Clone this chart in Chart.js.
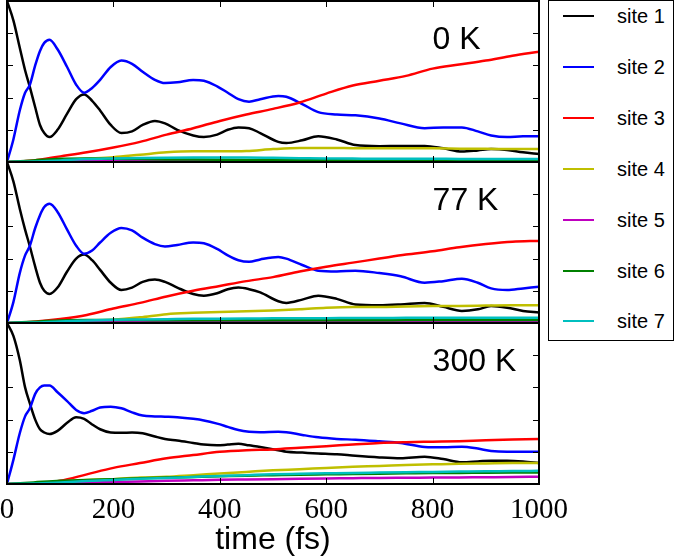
<!DOCTYPE html>
<html>
<head>
<meta charset="utf-8">
<script src="https://cdn.jsdelivr.net/npm/chart.js@4.4.1/dist/chart.umd.min.js"></script>
<style>
  html, body { margin: 0; padding: 0; background: #fff; }
  #wrap { position: relative; width: 675px; height: 560px; }
  #chart { position: absolute; left: 0; top: 0; }
  #legend {
    position: absolute; left: 548px; top: 0; width: 126px; height: 341px;
    box-sizing: border-box; border: 1.5px solid #000; background: #fff;
    font-family: 'Liberation Sans', Arial, sans-serif; font-size: 20px; color: #000;
  }
  #legend .item { position: absolute; left: 0; height: 24px; line-height: 24px; white-space: nowrap; }
  #legend .swatch { position: absolute; left: 14px; top: 11px; width: 31px; height: 2px; }
  #legend .label { position: absolute; left: 68px; top: 0; }
</style>
</head>
<body>
<div id="wrap">
  <canvas id="chart" width="675" height="560"></canvas>
  <div id="legend"></div>
</div>
<script>
'use strict';

// ── Data ─────────────────────────────────────────────────────────
const siteNames  = ['site 1', 'site 2', 'site 3', 'site 4', 'site 5', 'site 6', 'site 7'];
const siteColors = ['#000000', '#0000ff', '#ff0000', '#bfbf00', '#bf00bf', '#008000', '#00bfbf'];
const panelLabels = ['0 K', '77 K', '300 K'];

const xTickLabels = [0, 200, 400, 600, 800, 1000];

// time grid for the oscillating sites (1, 2)
const tFast = [0, 12, 24, 34, 43, 53, 62, 70, 80, 95, 113, 130, 145, 160, 175, 195, 215, 235, 255, 278,
               297, 320, 350, 370, 395, 415, 435, 455, 476, 510, 525, 555, 585, 620, 655, 700, 740, 785, 820, 855,
               885, 910, 940, 970, 1000];
// time grid for the slowly growing sites (3..7)
const tSlow = [0, 50, 100, 150, 200, 250, 300, 350, 400, 450, 500, 550, 600, 650, 700, 750, 800, 850, 900, 950, 1000];

// 0 K
const k0Site1 = [1.0, 0.88, 0.71, 0.57, 0.465, 0.34, 0.23, 0.18, 0.155, 0.2, 0.30, 0.39, 0.42, 0.38, 0.32, 0.23, 0.18, 0.19, 0.23, 0.255,
                 0.24, 0.2, 0.165, 0.155, 0.17, 0.2, 0.215, 0.21, 0.18, 0.125, 0.118, 0.135, 0.16, 0.14, 0.105, 0.098, 0.10, 0.10, 0.085, 0.065,
                 0.072, 0.08, 0.075, 0.06, 0.05];
const k0Site2 = [0, 0.14, 0.32, 0.43, 0.48, 0.6, 0.69, 0.74, 0.76, 0.70, 0.59, 0.48, 0.43, 0.46, 0.51, 0.59, 0.63, 0.61, 0.56, 0.51,
                 0.49, 0.495, 0.51, 0.505, 0.47, 0.43, 0.39, 0.375, 0.39, 0.41, 0.405, 0.36, 0.31, 0.295, 0.29, 0.27, 0.24, 0.21, 0.215, 0.215,
                 0.19, 0.165, 0.155, 0.16, 0.16];
const k0Site3 = [0, 0.01, 0.035, 0.06, 0.09, 0.125, 0.17, 0.21, 0.255, 0.295, 0.33, 0.37, 0.425, 0.475, 0.505, 0.535, 0.58, 0.605, 0.63, 0.66, 0.685];
const k0Site4 = [0, 0.003, 0.01, 0.02, 0.03, 0.045, 0.06, 0.066, 0.066, 0.068, 0.08, 0.087, 0.087, 0.086, 0.085, 0.085, 0.085, 0.083, 0.082, 0.08, 0.08];
const k0Site5 = [0, 0, 0.002, 0.005, 0.008, 0.01, 0.01, 0.01, 0.008, 0.006, 0.005, 0.005, 0.005, 0.005, 0.005, 0.005, 0.005, 0.005, 0.005, 0.005, 0.005];
const k0Site6 = [0, 0.01, 0.02, 0.022, 0.02, 0.018, 0.016, 0.015, 0.014, 0.013, 0.012, 0.012, 0.011, 0.01, 0.01, 0.01, 0.01, 0.01, 0.01, 0.01, 0.01];
const k0Site7 = [0, 0.003, 0.01, 0.018, 0.022, 0.025, 0.027, 0.028, 0.028, 0.028, 0.026, 0.024, 0.022, 0.021, 0.02, 0.02, 0.02, 0.019, 0.019, 0.018, 0.018];

// 77 K
const k77Site1 = [1.0, 0.88, 0.71, 0.58, 0.475, 0.35, 0.25, 0.2, 0.18, 0.22, 0.32, 0.40, 0.425, 0.39, 0.33, 0.25, 0.205, 0.22, 0.255, 0.27,
                  0.255, 0.22, 0.18, 0.17, 0.185, 0.21, 0.22, 0.21, 0.19, 0.135, 0.125, 0.145, 0.17, 0.15, 0.115, 0.11, 0.115, 0.125, 0.1, 0.075,
                  0.085, 0.105, 0.095, 0.075, 0.065];
const k77Site2 = [0, 0.13, 0.31, 0.42, 0.48, 0.59, 0.67, 0.72, 0.74, 0.69, 0.58, 0.48, 0.43, 0.45, 0.5, 0.56, 0.59, 0.575, 0.53, 0.49,
                  0.475, 0.485, 0.50, 0.495, 0.46, 0.42, 0.39, 0.38, 0.395, 0.41, 0.40, 0.36, 0.325, 0.32, 0.325, 0.31, 0.29, 0.25, 0.26, 0.275,
                  0.25, 0.215, 0.205, 0.215, 0.225];
const k77Site3 = [0, 0.008, 0.025, 0.05, 0.09, 0.125, 0.165, 0.2, 0.23, 0.26, 0.285, 0.32, 0.35, 0.375, 0.4, 0.425, 0.445, 0.47, 0.49, 0.505, 0.51];
const k77Site4 = [0, 0.002, 0.008, 0.015, 0.02, 0.035, 0.055, 0.063, 0.068, 0.073, 0.078, 0.085, 0.095, 0.1, 0.1, 0.103, 0.105, 0.106, 0.108, 0.11, 0.11];
const k77Site5 = [0, 0, 0.002, 0.004, 0.005, 0.005, 0.005, 0.005, 0.005, 0.005, 0.005, 0.005, 0.005, 0.005, 0.005, 0.005, 0.005, 0.005, 0.005, 0.005, 0.005];
const k77Site6 = [0, 0.008, 0.015, 0.018, 0.018, 0.018, 0.017, 0.017, 0.017, 0.017, 0.017, 0.017, 0.017, 0.017, 0.017, 0.018, 0.018, 0.018, 0.018, 0.018, 0.018];
const k77Site7 = [0, 0.003, 0.01, 0.015, 0.02, 0.022, 0.024, 0.026, 0.027, 0.028, 0.029, 0.03, 0.03, 0.031, 0.031, 0.032, 0.032, 0.032, 0.033, 0.033, 0.033];

// 300 K
const k300Site1 = [1.0, 0.92, 0.77, 0.6, 0.5, 0.40, 0.34, 0.32, 0.31, 0.33, 0.38, 0.415, 0.405, 0.37, 0.34, 0.32, 0.318, 0.32, 0.315, 0.295,
                   0.28, 0.27, 0.255, 0.245, 0.24, 0.245, 0.25, 0.24, 0.23, 0.21, 0.2, 0.195, 0.19, 0.185, 0.175, 0.165, 0.16, 0.17, 0.155, 0.135,
                   0.14, 0.145, 0.145, 0.14, 0.13];
const k300Site2 = [0, 0.15, 0.315, 0.42, 0.47, 0.56, 0.6, 0.612, 0.612, 0.57, 0.515, 0.46, 0.44, 0.455, 0.475, 0.48, 0.47, 0.445, 0.425, 0.42,
                   0.418, 0.415, 0.405, 0.395, 0.375, 0.355, 0.335, 0.325, 0.322, 0.325, 0.322, 0.305, 0.29, 0.28, 0.275, 0.265, 0.255, 0.23, 0.228, 0.232,
                   0.22, 0.205, 0.2, 0.2, 0.2];
const k300Site3 = [0, 0.003, 0.02, 0.06, 0.1, 0.13, 0.16, 0.18, 0.2, 0.21, 0.215, 0.225, 0.235, 0.245, 0.255, 0.26, 0.263, 0.266, 0.272, 0.276, 0.28];
const k300Site4 = [0, 0.005, 0.015, 0.025, 0.03, 0.04, 0.045, 0.055, 0.065, 0.075, 0.085, 0.092, 0.1, 0.107, 0.112, 0.118, 0.122, 0.126, 0.128, 0.13, 0.13];
const k300Site5 = [0, 0.001, 0.004, 0.008, 0.012, 0.016, 0.02, 0.023, 0.026, 0.028, 0.03, 0.032, 0.034, 0.036, 0.038, 0.039, 0.04, 0.041, 0.042, 0.043, 0.045];
const k300Site6 = [0, 0.01, 0.02, 0.025, 0.03, 0.035, 0.04, 0.044, 0.048, 0.052, 0.055, 0.058, 0.06, 0.062, 0.064, 0.066, 0.068, 0.069, 0.07, 0.071, 0.072];
const k300Site7 = [0, 0.003, 0.01, 0.018, 0.025, 0.032, 0.038, 0.044, 0.05, 0.055, 0.06, 0.063, 0.066, 0.069, 0.071, 0.073, 0.075, 0.077, 0.079, 0.08, 0.082];

const panels = [
  { axis: 'yA', sites: [k0Site1, k0Site2, k0Site3, k0Site4, k0Site5, k0Site6, k0Site7] },
  { axis: 'yB', sites: [k77Site1, k77Site2, k77Site3, k77Site4, k77Site5, k77Site6, k77Site7] },
  { axis: 'yC', sites: [k300Site1, k300Site2, k300Site3, k300Site4, k300Site5, k300Site6, k300Site7] },
];

// ── Build datasets ───────────────────────────────────────────────
const datasets = [];
panels.forEach(p => {
  p.sites.forEach((vals, i) => {
    const ts = i < 2 ? tFast : tSlow;
    datasets.push({
      label: siteNames[i],
      data: ts.map((t, k) => ({ x: t, y: vals[k] })),
      yAxisID: p.axis,
      borderColor: siteColors[i],
      borderWidth: 2.5,
      pointRadius: 0,
      fill: false,
      cubicInterpolationMode: 'monotone',
      order: 7 - i
    });
  });
});

// ── Frames, inward ticks and panel labels ────────────────────────
const panelFrames = {
  id: 'panelFrames',
  afterDatasetsDraw(chart) {
    const { ctx, chartArea: a, scales } = chart;
    const x = scales.x;
    ctx.save();
    panels.forEach((p, i) => {
      const y = scales[p.axis];
      ctx.strokeStyle = '#000';
      ctx.lineWidth = 1;
      ctx.beginPath();
      [0.2, 0.4, 0.6, 0.8].forEach(v => {
        const py = Math.round(y.getPixelForValue(v)) + 0.5;
        ctx.moveTo(a.left, py);  ctx.lineTo(a.left + 6, py);
        ctx.moveTo(a.right, py); ctx.lineTo(a.right - 6, py);
      });
      [200, 400, 600, 800].forEach(v => {
        const px = Math.round(x.getPixelForValue(v)) + 0.5;
        ctx.moveTo(px, y.top);    ctx.lineTo(px, y.top + 6);
        ctx.moveTo(px, y.bottom); ctx.lineTo(px, y.bottom - 6);
      });
      ctx.stroke();
      ctx.lineWidth = 2;
      ctx.strokeRect(a.left, y.top, a.right - a.left, y.bottom - y.top);

      ctx.fillStyle = '#000';
      ctx.font = "32px 'Liberation Sans', Arial, sans-serif";
      ctx.textAlign = 'left';
      ctx.textBaseline = 'alphabetic';
      ctx.fillText(panelLabels[i], x.getPixelForValue(800), y.getPixelForValue(0.7));
    });
    ctx.restore();
  }
};

const yPanel = (w) => ({
  type: 'linear', position: 'left', stack: 'panels', stackWeight: 1, weight: w,
  min: 0, max: 1, display: false
});

new Chart(document.getElementById('chart'), {
  type: 'line',
  data: { datasets },
  options: {
    responsive: false,
    animation: false,
    layout: { padding: { left: 7, right: 136, top: 1, bottom: 0 } },
    plugins: { legend: { display: false }, tooltip: { enabled: false } },
    scales: {
      x: {
        type: 'linear', min: 0, max: 1000,
        afterBuildTicks: s => { s.ticks = xTickLabels.map(v => ({ value: v })); },
        afterFit: s => { s.height = 76; s.paddingLeft = 0; s.paddingRight = 0; },
        grid: { display: false, drawTicks: false },
        border: { display: false },
        ticks: {
          color: '#000', padding: 12, maxRotation: 0,
          callback: v => String(v),
          font: { family: "'Liberation Serif', 'Times New Roman', serif", size: 29, lineHeight: 1.0 }
        },
        title: {
          display: true, text: 'time (fs)', color: '#000',
          font: { family: "'Liberation Sans', Arial, sans-serif", size: 32, lineHeight: 1 },
          padding: { top: 2, bottom: 4 }
        }
      },
      yA: yPanel(3),
      yB: yPanel(2),
      yC: yPanel(1)
    }
  },
  plugins: [panelFrames]
});

// ── HTML legend ──────────────────────────────────────────────────
const legend = document.getElementById('legend');
siteNames.forEach((name, i) => {
  const item = document.createElement('div');
  item.className = 'item';
  item.style.top = (3 + i * 50.9) + 'px';
  item.innerHTML = '<span class="swatch" style="background:' + siteColors[i] + '"></span>' +
                   '<span class="label">' + name + '</span>';
  legend.appendChild(item);
});
</script>
</body>
</html>
